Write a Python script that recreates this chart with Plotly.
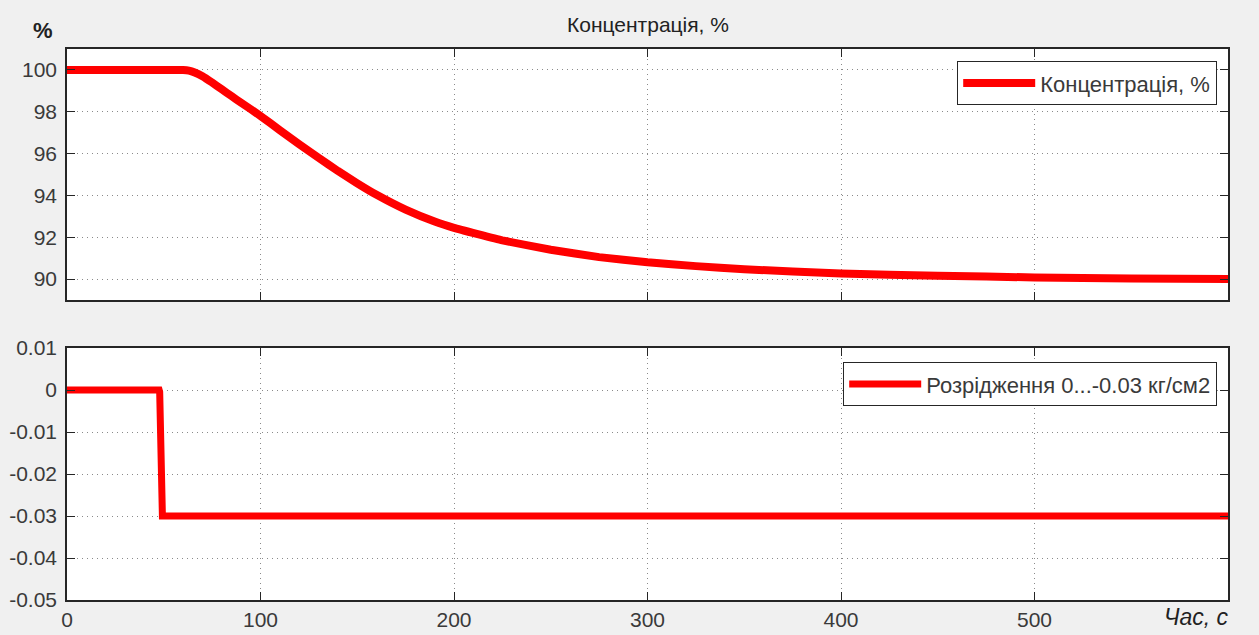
import plotly.graph_objects as go

# Data
t_conc = [0, 60, 63, 66, 70, 75, 80, 85, 90, 95, 100, 110, 120, 130, 140, 150, 160, 175, 190, 200,
          225, 250, 275, 300, 325, 350, 400, 450, 500, 550, 600]
conc = [100, 100, 99.97, 99.88, 99.7, 99.4, 99.07, 98.75, 98.43, 98.12, 97.8, 97.12, 96.45, 95.8,
        95.17, 94.58, 94.03, 93.32, 92.75, 92.45, 91.85, 91.4, 91.05, 90.8, 90.62, 90.47, 90.27,
        90.16, 90.08, 90.03, 90.0]
t_vac = [0, 47.6, 47.9, 48.2, 48.6, 49.3, 600]
vac = [0, 0, -0.0005, -0.015, -0.016, -0.03, -0.03]

name_conc = "Концентрація, %"
name_vac = "Розрідження 0...-0.03 кг/см2"
title_text = "Концентрація, %"
xlabel = "Час, с"
ylabel = "%"

x_ticks = [0, 100, 200, 300, 400, 500]
y1_ticks = [90, 92, 94, 96, 98, 100]
y2_ticks = [-0.05, -0.04, -0.03, -0.02, -0.01, 0, 0.01]
y2_labels = ["-0.05", "-0.04", "-0.03", "-0.02", "-0.01", "0", "0.01"]

W, H = 1259, 635
red = "#ff0000"
fontc = "#3a3a3a"
fam = "Liberation Sans, Arial, sans-serif"

fig = go.Figure()
fig.add_trace(go.Scatter(x=t_conc, y=conc, mode="lines", line=dict(color=red, width=8, shape="spline", smoothing=0.3),
                         name=name_conc, xaxis="x", yaxis="y", legend="legend"))
fig.add_trace(go.Scatter(x=t_vac, y=vac, mode="lines", line=dict(color=red, width=7),
                         name=name_vac, xaxis="x2", yaxis="y2", legend="legend2"))

xd = [67 / W, 1228 / W]
axcommon = dict(showline=True, linecolor="#262626", linewidth=1.5, mirror="ticks", ticks="inside",
                ticklen=8, tickcolor="#262626", showgrid=True, gridcolor="#8a8a8a",
                griddash="1px,4px", gridwidth=1.2, zeroline=False, automargin=False,
                tickfont=dict(family=fam, size=21, color=fontc))

fig.update_layout(
    width=W, height=H,
    margin=dict(l=0, r=0, t=0, b=0),
    paper_bgcolor="#f0f0f0", plot_bgcolor="#ffffff",
    font=dict(family=fam, color=fontc),
    xaxis=dict(domain=xd, range=[0, 600], tickvals=x_ticks, showticklabels=False, anchor="y", **axcommon),
    yaxis=dict(domain=[(H - 300) / H, (H - 49) / H], range=[89, 101], tickvals=y1_ticks, anchor="x",
               ticklabelstandoff=4, **axcommon),
    xaxis2=dict(domain=xd, range=[0, 600], tickvals=x_ticks, anchor="y2", ticklabelstandoff=0, **axcommon),
    yaxis2=dict(domain=[(H - 600) / H, (H - 348) / H], range=[-0.05, 0.01], tickvals=y2_ticks,
                ticktext=y2_labels, anchor="x2", ticklabelstandoff=4, **axcommon),
    legend=dict(x=1217 / W, y=(H - 61) / H, xanchor="right", yanchor="top", bgcolor="#ffffff",
                bordercolor="#262626", borderwidth=1.2, font=dict(family=fam, size=22, color=fontc),
                itemwidth=72),
    legend2=dict(x=1217 / W, y=(H - 362) / H, xanchor="right", yanchor="top", bgcolor="#ffffff",
                 bordercolor="#262626", borderwidth=1.2, font=dict(family=fam, size=22, color=fontc),
                 itemwidth=72),
    showlegend=True,
    annotations=[
        dict(text=title_text, x=(67 + 1228) / 2 / W, y=(H - 24) / H, xref="paper", yref="paper",
             xanchor="center", yanchor="middle",
             showarrow=False, font=dict(family=fam, size=21, color="#222222")),
        dict(text="<b>" + ylabel + "</b>", x=43 / W, y=(H - 31) / H, xref="paper", yref="paper",
             xanchor="center", yanchor="middle",
             showarrow=False, font=dict(family=fam, size=22, color="#222222")),
        dict(text="<i>" + xlabel + "</i>", x=1196 / W, y=(H - 617) / H, xref="paper", yref="paper",
             xanchor="center", yanchor="middle",
             showarrow=False, font=dict(family=fam, size=23, color="#222222")),
    ],
)

fig.write_html("out.html")
